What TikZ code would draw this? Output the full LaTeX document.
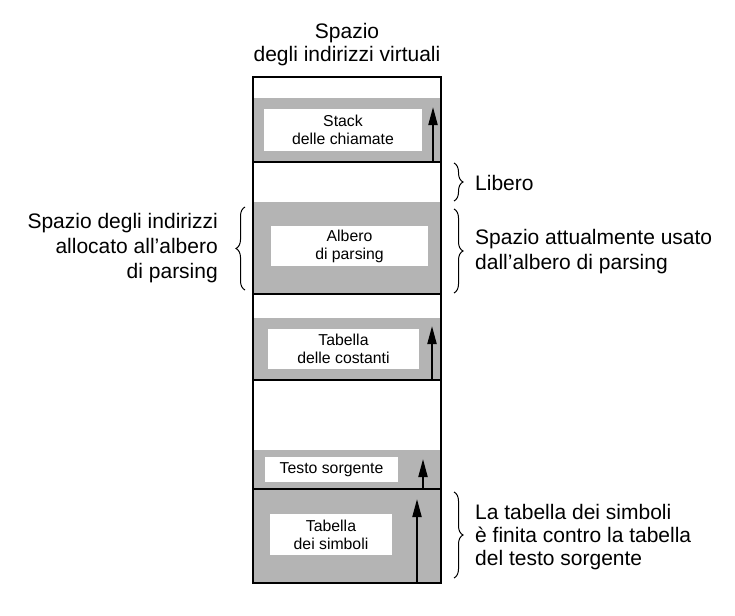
\documentclass[tikz,border=0pt]{standalone}
\usepackage{fontspec}
\setmainfont{Liberation Sans}
\usetikzlibrary{decorations.pathreplacing,arrows.meta}
\definecolor{seggray}{RGB}{180,180,180}
\begin{document}
\begin{tikzpicture}[x=1pt,y=-1pt,
  lab/.style={fill=white, inner sep=0pt, font=\fontsize{15.8}{18}\selectfont, align=center},
  big/.style={font=\fontsize{21}{25}\selectfont, inner sep=0pt},
  up/.style={-{Triangle[length=18pt,width=9pt]}, line width=2pt},
  brc/.style={decorate, decoration={brace, amplitude=9pt}, line width=1pt},
  divider/.style={line width=2pt}]
\useasboundingbox (0,0) rectangle (735,615);
% gray segments
\fill[seggray] (253,98) rectangle (441,162);
\fill[seggray] (253,202) rectangle (441,294);
\fill[seggray] (253,318) rectangle (441,380);
\fill[seggray] (253,450) rectangle (441,583);
% dividers
\coordinate (d1l) at (253,162); \coordinate (d1r) at (441,162);
\coordinate (d2l) at (253,294); \coordinate (d2r) at (441,294);
\coordinate (d3l) at (253,380); \coordinate (d3r) at (441,380);
\coordinate (d4l) at (253,489); \coordinate (d4r) at (441,489);
\draw[divider] (d1l) -- (d1r);
\draw[divider] (d2l) -- (d2r);
\draw[divider] (d3l) -- (d3r);
\draw[divider] (d4l) -- (d4r);
\draw[divider] (253,77) rectangle (441,583);
% title
\node[big, anchor=base] (title1) at (347,39) {Spazio};
\node[big, anchor=base] (title2) at (347,62) {degli indirizzi virtuali};
% inner boxes
\node[lab, minimum width=158pt, minimum height=42pt] (stack) at (343,130) {Stack\\delle chiamate};
\node[lab, minimum width=157pt, minimum height=40pt] (albero) at (349.5,246) {Albero\\di parsing};
\node[lab, minimum width=151pt, minimum height=40pt] (costanti) at (343.5,349) {Tabella\\delle costanti};
\node[lab, minimum width=133pt, minimum height=25pt] (testo) at (331.5,469.5) {Testo sorgente};
\node[lab, minimum width=122pt, minimum height=41pt] (simboli) at (331,534.5) {Tabella\\dei simboli};
% arrows
\coordinate (a1s) at (433,162); \coordinate (a1e) at (433,107);
\coordinate (a2s) at (432,380); \coordinate (a2e) at (432,326);
\coordinate (a3s) at (423,489); \coordinate (a3e) at (423,459);
\coordinate (a4s) at (417,583); \coordinate (a4e) at (417,499);
\draw[up] (a1s) -- (a1e);
\draw[up] (a2s) -- (a2e);
\draw[up] (a3s) -- (a3e);
\draw[up] (a4s) -- (a4e);
% braces
\coordinate (b1t) at (454,163); \coordinate (b1b) at (454,201);
\coordinate (b2t) at (454,209); \coordinate (b2b) at (454,293);
\coordinate (b3t) at (454,492); \coordinate (b3b) at (454,578);
\coordinate (b4t) at (245,207); \coordinate (b4b) at (245,290);
\draw[brc] (b1t) -- (b1b);
\draw[brc] (b2t) -- (b2b);
\draw[brc] (b3t) -- (b3b);
\draw[brc] (b4b) -- (b4t);
% side labels
\node[big, anchor=west] (libero) at (475,183) {Libero};
\node[big, anchor=west, align=left] (usato) at (475,252) {Spazio attualmente usato\\dall’albero di parsing};
\node[big, anchor=west, align=left, font=\fontsize{21}{23}\selectfont] (finita) at (475,537) {La tabella dei simboli\\è finita contro la tabella\\del testo sorgente};
\node[big, anchor=east, align=right] (allocato) at (218,248) {Spazio degli indirizzi\\allocato all’albero\\di parsing};
\end{tikzpicture}
\end{document}
